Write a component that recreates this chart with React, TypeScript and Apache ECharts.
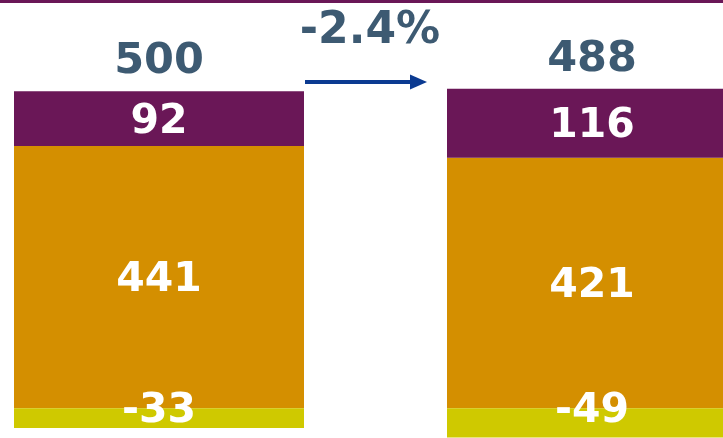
import React, { useEffect, useRef } from "react";
import * as echarts from "echarts";

const categories = ["Before", "After"];
const midValues = [441, 421];
const topValues = [92, 116];
const negValues = [-33, -49];
const totals = [500, 488];

const PURPLE = "#6a1757";
const ORANGE = "#d48f00";
const YELLOW = "#cfc900";
const TEXT = "#3d5a72";
const ARROW = "#0b3a91";
const FONT = "DejaVu Sans";

export default function App() {
  const ref = useRef<HTMLDivElement>(null);
  useEffect(() => {
    if (!ref.current) return;
    const chart = echarts.init(ref.current, null, { renderer: "svg" });
    const change = ((totals[1] - totals[0]) / totals[0]) * 100;
    const labelStyle = {
      color: "#ffffff",
      fontFamily: FONT,
      fontWeight: "bold" as const,
      fontSize: 41,
    };
    chart.setOption({
      animation: false,
      grid: { left: 159, right: 131, top: 87, bottom: 0, containLabel: false },
      xAxis: {
        type: "category",
        data: categories,
        boundaryGap: false,
        show: false,
      },
      yAxis: {
        type: "value",
        min: -50,
        max: 540,
        show: false,
      },
      graphic: [
        { type: "rect", left: 0, top: 0, shape: { x: 0, y: 0, width: 723, height: 3 }, style: { fill: PURPLE } },
        {
          type: "text",
          x: 370,
          y: 27,
          style: {
            text: `${change.toFixed(1)}%`,
            fill: TEXT,
            font: `bold 44px "${FONT}"`,
            textAlign: "center",
            textVerticalAlign: "middle",
          },
        },
        { type: "line", shape: { x1: 305, y1: 82, x2: 414, y2: 82 }, style: { stroke: ARROW, lineWidth: 4 } },
        { type: "polygon", shape: { points: [[410, 74.5], [427, 82], [410, 89.5]] }, style: { fill: ARROW } },
      ],
      series: [
        {
          type: "bar",
          stack: "s",
          clip: false,
          data: midValues,
          barWidth: 290,
          itemStyle: { color: ORANGE },
          label: { show: true, position: "inside", ...labelStyle },
        },
        {
          type: "bar",
          stack: "s",
          clip: false,
          data: topValues,
          barWidth: 290,
          itemStyle: { color: PURPLE },
          label: { show: true, position: "inside", ...labelStyle },
        },
        {
          type: "bar",
          stack: "s",
          clip: false,
          data: negValues,
          barWidth: 290,
          itemStyle: { color: YELLOW },
          label: { show: false },
        },
        {
          type: "scatter",
          z: 10,
          clip: false,
          symbolSize: 1,
          itemStyle: { color: "transparent", opacity: 1 },
          data: categories.map((c) => [c, 0]),
          label: {
            show: true,
            position: "inside",
            ...labelStyle,
            formatter: (p: any) => String(negValues[p.dataIndex]),
          },
        },
        {
          type: "scatter",
          z: 10,
          clip: false,
          symbolSize: 1,
          itemStyle: { color: "transparent", opacity: 1 },
          data: categories.map((c, i) => [c, midValues[i] + topValues[i]]),
          label: {
            show: true,
            position: "top",
            distance: 11,
            color: TEXT,
            fontFamily: FONT,
            fontWeight: "bold",
            fontSize: 43,
            formatter: (p: any) => String(totals[p.dataIndex]),
          },
        },
      ],
    });
    return () => chart.dispose();
  }, []);
  return <div ref={ref} style={{ position: "fixed", left: 0, top: 0, width: 723, height: 438 }} />;
}
